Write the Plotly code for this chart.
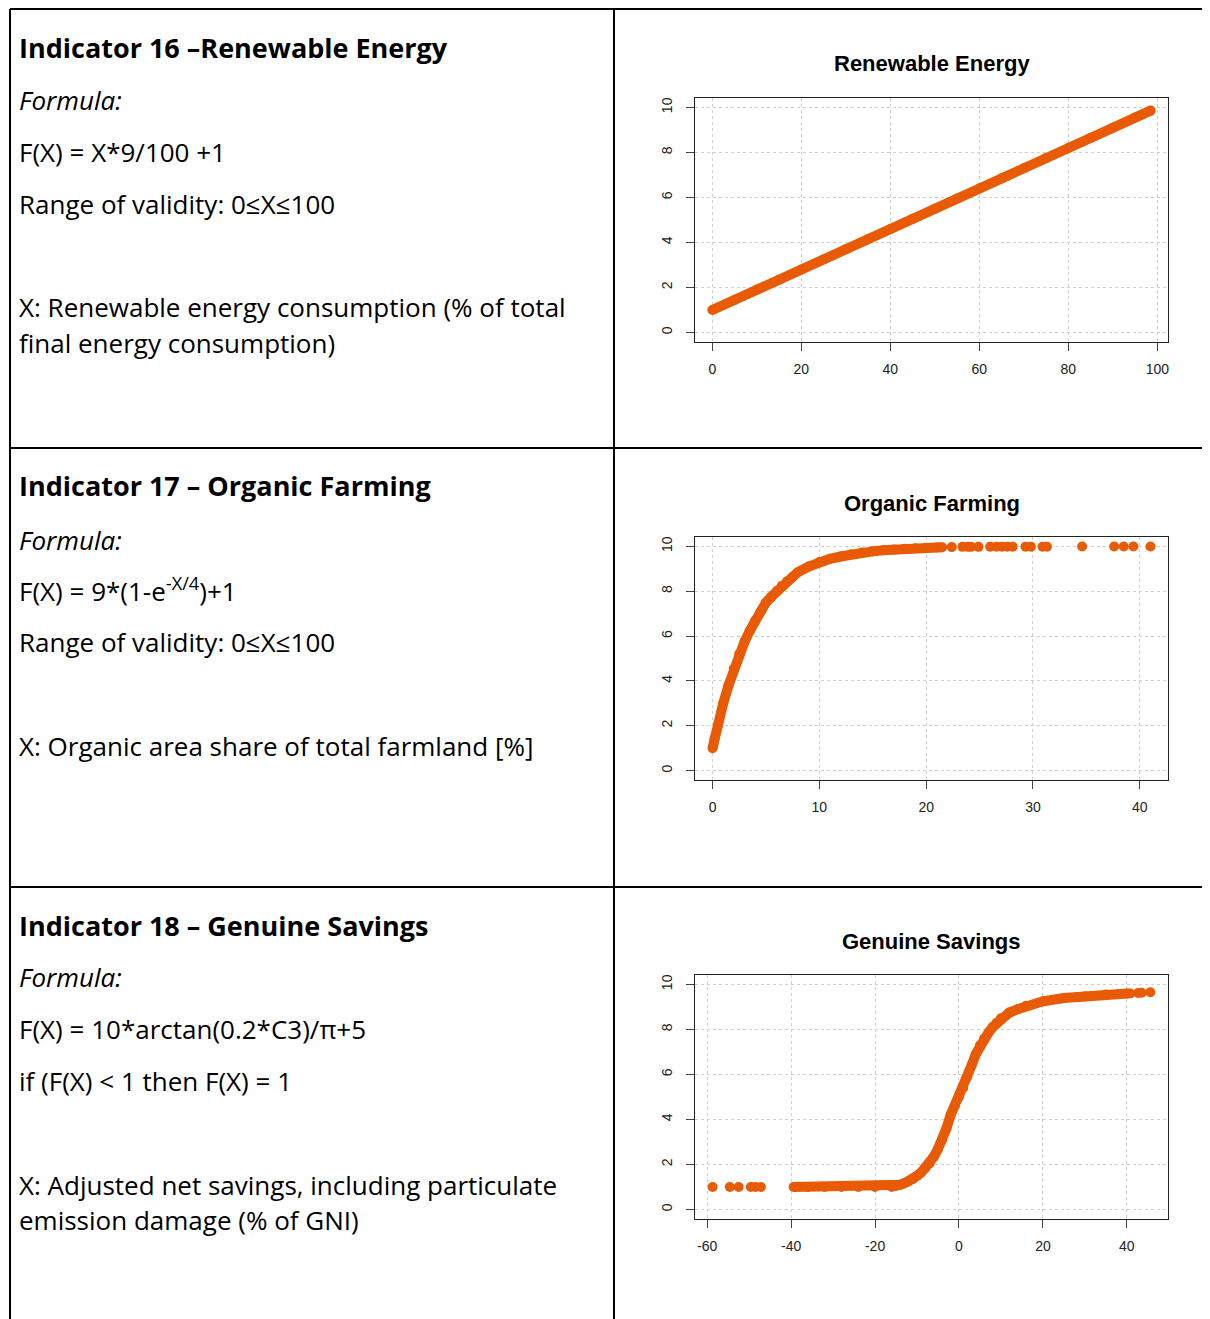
import plotly.graph_objects as go

# Indicator 16 - Renewable Energy
re_x = [0, 5, 10, 15, 20, 25, 30, 35, 40, 45, 50, 55, 60, 65, 70, 75, 80, 85, 90, 95, 98.5]
re_y = [1.0, 1.45, 1.9, 2.35, 2.8, 3.25, 3.7, 4.15, 4.6, 5.05, 5.5, 5.95, 6.4, 6.85, 7.3, 7.75, 8.2, 8.65, 9.1, 9.55, 9.86]

# Indicator 17 - Organic Farming
of_x = [0, 0.2, 0.5, 1, 1.5, 2, 2.5, 3, 3.5, 4, 4.5, 5, 5.5, 6, 6.5, 7, 7.5, 8, 9, 10, 11, 12, 13, 14,
        15, 16, 17, 18, 19, 20, 21, 21.5]
of_y = [1.0, 1.45, 2.0, 3.0, 3.8, 4.55, 5.2, 5.75, 6.25, 6.7, 7.1, 7.5, 7.75, 8.0, 8.25, 8.45, 8.65, 8.85,
        9.1, 9.3, 9.45, 9.55, 9.65, 9.73, 9.78, 9.83, 9.86, 9.9, 9.92, 9.94, 9.95, 9.96]
of_sparse_x = [22.4, 23.4, 23.9, 24.2, 24.9, 26.0, 26.6, 27.1, 27.6, 28.1, 29.3, 29.8, 30.9, 31.3,
               34.6, 37.6, 38.5, 39.4, 41.0]
of_sparse_y = [9.97, 9.98, 9.98, 9.98, 9.98, 9.99, 9.99, 9.99, 9.99, 9.99, 9.99, 9.99, 9.99, 9.99,
               10.0, 10.0, 10.0, 10.0, 10.0]

# Indicator 18 - Genuine Savings
gs_x = [-39.4, -36, -32, -28, -24, -20, -16, -15, -14, -13, -12, -11, -10, -9, -8, -7, -6, -5, -4, -3,
        -2, -1, 0, 1, 2, 3, 4, 5, 6, 7, 8, 9, 10, 12, 14, 16, 20, 25, 30, 35, 40.2]
gs_y = [1.0, 1.0, 1.0, 1.0, 1.0, 1.0, 1.0, 1.05, 1.1, 1.17, 1.25, 1.35, 1.5, 1.65, 1.85, 2.05, 2.35, 2.7,
        3.1, 3.6, 4.2, 4.6, 5.0, 5.4, 5.9, 6.4, 6.9, 7.3, 7.6, 7.85, 8.1, 8.3, 8.5, 8.75, 8.9, 9.05,
        9.25, 9.4, 9.47, 9.55, 9.6]
gs_sparse_x = [-58.7, -54.6, -52.5, -49.6, -48.5, -47.2, 40.8, 42.7, 43.5, 45.6]
gs_sparse_y = [1.0, 1.0, 1.0, 1.0, 1.0, 1.0, 9.6, 9.62, 9.63, 9.65]

plot_titles = ["Renewable Energy", "Organic Farming", "Genuine Savings"]
x_ticks = [[0, 20, 40, 60, 80, 100], [0, 10, 20, 30, 40], [-60, -40, -20, 0, 20, 40]]
x_ranges = [[-3.9, 102.4], [-1.64, 42.64], [-62.9, 49.8]]
y_ticks = [0, 2, 4, 6, 8, 10]

# the page puts the figure 8px in from the top-left corner
OFF = 8
W, H = 1210 - OFF, 1319 - OFF
ORANGE = "#E95A05"
TEXT_FONT = "Open Sans, Noto Sans, sans-serif"
R_FONT = "Liberation Sans, Arial, sans-serif"


def px(x):
    return (x - OFF) / W


def py(y):
    return 1 - (y - OFF) / H


fig = go.Figure()

series = [
    (re_x, re_y, [], [], "x", "y"),
    (of_x, of_y, of_sparse_x, of_sparse_y, "x2", "y2"),
    (gs_x, gs_y, gs_sparse_x, gs_sparse_y, "x3", "y3"),
]
for dx, dy, sx, sy, xa, ya in series:
    fig.add_trace(go.Scatter(
        x=dx, y=dy, mode="lines+markers", xaxis=xa, yaxis=ya,
        line=dict(color=ORANGE, width=10),
        marker=dict(color=ORANGE, size=10),
        showlegend=False, hoverinfo="skip"
    ))
    if sx:
        fig.add_trace(go.Scatter(
            x=sx, y=sy, mode="markers", xaxis=xa, yaxis=ya,
            marker=dict(color=ORANGE, size=10),
            showlegend=False, hoverinfo="skip"
        ))

# box tops/bottoms for each panel (pixels in the reference)
panels = [(98, 342), (537, 780), (975, 1219)]

axis_common = dict(
    showline=True, mirror=True, linecolor="#222", linewidth=1,
    ticks="outside", ticklen=8, tickcolor="#444", tickwidth=1,
    showgrid=True, gridcolor="#d0d0d0", griddash="dot", gridwidth=1,
    zeroline=False, tickfont=dict(family=R_FONT, size=14, color="#222"),
)

layout_axes = {}
for i, (top, bottom) in enumerate(panels):
    suffix = "" if i == 0 else str(i + 1)
    layout_axes["xaxis" + suffix] = dict(
        axis_common, domain=[px(695), px(1168)], range=x_ranges[i],
        tickvals=x_ticks[i], ticktext=[str(v) for v in x_ticks[i]],
        anchor="y" + suffix, ticklabelstandoff=6
    )
    layout_axes["yaxis" + suffix] = dict(
        axis_common, domain=[py(bottom), py(top)], range=[-0.42, 10.42],
        tickvals=y_ticks, ticktext=[str(v) for v in y_ticks],
        anchor="x" + suffix, tickangle=-90, ticklabelstandoff=8
    )

fig.update_layout(
    width=W, height=H, margin=dict(l=0, r=0, t=0, b=0),
    plot_bgcolor="white", paper_bgcolor="white",
    **layout_axes
)

# plot titles
for i, (top, bottom) in enumerate(panels):
    fig.add_annotation(
        x=px(931.5), y=py(top - 34), xref="paper", yref="paper",
        text="<b>" + plot_titles[i] + "</b>", showarrow=False,
        xanchor="center", yanchor="middle",
        font=dict(family=R_FONT, size=22, color="black")
    )

# left column text: (centre y, text, bold heading?)
left_text = [
    (47, "Indicator 16 –Renewable Energy", True),
    (100, "<i>Formula:</i>", False),
    (152, "F(X) = X*9/100 +1", False),
    (204, "Range of validity: 0≤X≤100", False),
    (307, "X: Renewable energy consumption (% of total", False),
    (343, "final energy consumption)", False),
    (486, "Indicator 17 – Organic Farming", True),
    (540, "<i>Formula:</i>", False),
    (590, "F(X) = 9*(1-e<sup>-X/4</sup>)+1", False),
    (642, "Range of validity: 0≤X≤100", False),
    (746, "X: Organic area share of total farmland [%]", False),
    (925, "Indicator 18 – Genuine Savings", True),
    (977, "<i>Formula:</i>", False),
    (1029, "F(X) = 10*arctan(0.2*C3)/π+5", False),
    (1081, "if (F(X) < 1 then F(X) = 1", False),
    (1185, "X: Adjusted net savings, including particulate", False),
    (1220, "emission damage (% of GNI)", False),
]
for yc, txt, heading in left_text:
    fig.add_annotation(
        x=px(17), y=py(yc), xref="paper", yref="paper",
        text="<b>" + txt + "</b>" if heading else txt,
        showarrow=False, xanchor="left", yanchor="middle",
        font=dict(family=TEXT_FONT, size=27 if heading else 26, color="black")
    )

# table borders
border = dict(color="black", width=2)
fig.add_shape(type="line", xref="paper", yref="paper", x0=px(10), x1=px(10), y0=py(9), y1=0, line=border)
fig.add_shape(type="line", xref="paper", yref="paper", x0=px(614), x1=px(614), y0=py(9), y1=0, line=border)
for yl in [9, 448, 887]:
    fig.add_shape(type="line", xref="paper", yref="paper", x0=px(10), x1=1, y0=py(yl), y1=py(yl), line=border)

fig.write_html("out.html")
